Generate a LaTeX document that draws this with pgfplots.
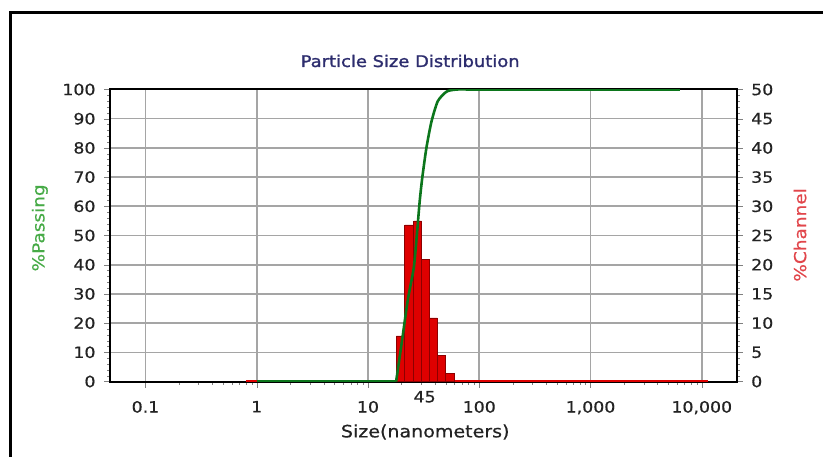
\documentclass[border=0pt]{standalone}
\usepackage{pgfplots}
\pgfplotsset{compat=1.18}
\usepackage{fontspec}
\setmainfont{DejaVu Sans}[FakeStretch=1.12, FakeBold=0.6]
\newfontfamily\titlefont{DejaVu Sans}[FakeStretch=1.12, FakeBold=1.4]

\definecolor{passgreen}{RGB}{12,118,28}
\definecolor{passlabel}{RGB}{70,170,70}
\definecolor{chanred}{RGB}{222,0,0}
\definecolor{chanedge}{RGB}{140,0,0}
\definecolor{chanlabel}{RGB}{225,70,75}
\definecolor{titleblue}{RGB}{45,45,110}
\definecolor{ticktext}{RGB}{35,35,35}
\definecolor{gridgray}{RGB}{165,165,165}

\begin{document}
\begin{tikzpicture}[x=1pt,y=1pt]
\useasboundingbox (0,0) rectangle (823,456);
\draw[line width=3pt] (10,-5) -- (10,443) -- (830,443);

% left axis: grid, %Passing scale
\begin{axis}[
  xmode=log, xmin=0.048, xmax=20600,
  scale only axis, width=626.7pt, height=292pt,
  at={(110pt,74.5pt)}, anchor=south west,
  tick align=outside,
  major tick length=6pt, minor tick length=3pt,
  axis line style={black, line width=2pt},
  tick label style={font=\fontsize{15.5}{18}\selectfont, text=ticktext},
  yticklabel style={xshift=-5pt},
  xticklabel style={yshift=-10pt},
  /pgf/number format/assume math mode=true,
  ymin=0, ymax=100, ytick={0,10,...,100},
  minor y tick num=4,
  xtick={0.1,1,10,100,1000,10000},
  xticklabels={0.1,1,10,100,{1,000},{10,000}},
  extra x ticks={32.3}, extra x tick labels={45},
  extra x tick style={grid=none, major tick length=0pt,
    xticklabel style={yshift=4pt}},
  xtick pos=bottom, ytick pos=left,
  grid=major,
  major grid style={gridgray, line width=1.6pt},
  title={Particle Size Distribution},
  title style={font=\titlefont\fontsize{16}{19}\selectfont, text=titleblue,
    at={(axis description cs:0.479,1)}, anchor=center, yshift=22.5pt},
  xlabel={Size(nanometers)},
  xlabel style={font=\fontsize{17}{20}\selectfont, text=ticktext,
    at={(axis description cs:0.503,-0.173)}, anchor=center},
  ylabel={\%Passing},
  ylabel style={font=\fontsize{16.5}{19}\selectfont, text=passlabel,
    at={(axis description cs:-0.112,0.526)}, anchor=center},
]
\end{axis}

% right axis: %Channel bars
\begin{axis}[
  xmode=log, xmin=0.048, xmax=20600,
  scale only axis, width=626.7pt, height=292pt,
  at={(110pt,74.5pt)}, anchor=south west,
  tick align=outside,
  major tick length=6pt, minor tick length=3pt,
  axis line style={black, line width=2pt},
  tick label style={font=\fontsize{15.5}{18}\selectfont, text=ticktext},
  yticklabel style={xshift=5pt},
  /pgf/number format/assume math mode=true,
  ymin=0, ymax=50, ytick={0,5,...,50},
  minor y tick num=4,
  axis y line*=right, axis x line=none,
  ylabel={\%Channel},
  ylabel style={font=\fontsize{16.5}{19}\selectfont, text=chanlabel,
    at={(axis description cs:1.101,0.502)}, anchor=center},
]
\addplot[chanred, line width=3pt] coordinates {(0.8,0) (11300,0)};
\addplot[ybar interval, fill=chanred, draw=chanedge, line width=0.6pt]
  coordinates {(18.0,7.8) (21.4,26.8) (25.8,27.5) (30.2,20.9)
               (35.9,10.9) (42.1,4.5) (50.0,1.4) (60.2,1.4)};
\end{axis}

% cumulative %Passing curve on top
\begin{axis}[
  xmode=log, xmin=0.048, xmax=20600,
  scale only axis, width=626.7pt, height=292pt,
  at={(110pt,74.5pt)}, anchor=south west,
  ymin=0, ymax=100, hide axis,
]
\addplot[passgreen, line width=3pt] coordinates {(1,0) (17.9,0)};
\addplot[passgreen, line width=2.6pt, smooth, tension=0.4] coordinates {
  (17.9,0) (20.4,15) (22.8,28) (25.8,39) (27.6,51)
  (29.2,62) (30.8,70) (33.5,80) (37.2,89) (42.4,96) (51,99.3) (62.8,100)
  (80,100)};
\addplot[passgreen, line width=3pt] coordinates {(80,100) (6400,100)};
\end{axis}
\end{tikzpicture}
\end{document}
